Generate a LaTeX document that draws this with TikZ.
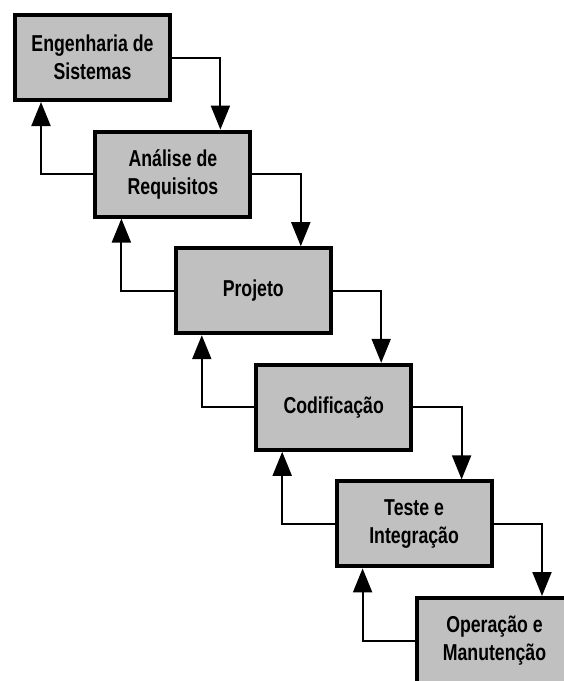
\documentclass[tikz,border=0pt]{standalone}
\usepackage{fontspec}
\setmainfont{Liberation Sans}[FakeStretch=0.77]
\usetikzlibrary{arrows.meta}
\definecolor{boxgray}{HTML}{C0C0C0}
\tikzset{
  stagebox/.style={draw=black, line width=4pt, fill=boxgray, minimum width=155pt, minimum height=85pt,
    inner sep=0pt, align=center, font=\fontsize{23}{28}\selectfont\bfseries},
  conn/.style={line width=2pt, -{Triangle[length=24pt,width=19pt]}}
}
\begin{document}
\begin{tikzpicture}[x=1pt,y=-1pt]
\useasboundingbox (0,0) rectangle (564,681);
\clip (0,0) rectangle (564,681);
\node[stagebox] (b1) at (92.5,57.5) {Engenharia de\\Sistemas};
\node[stagebox] (b2) at (172.9,174.1) {Análise de\\Requisitos};
\node[stagebox] (b3) at (253.3,290.7) {Projeto};
\node[stagebox] (b4) at (333.7,407.3) {Codificação};
\node[stagebox] (b5) at (414.1,523.9) {Teste e\\Integração};
\node[stagebox] (b6) at (494.5,640.5) {Operação e\\Manutenção};
\foreach \a/\b in {b1/b2,b2/b3,b3/b4,b4/b5,b5/b6}{
  \draw[conn] (\a.east) -| ([xshift=127pt]\b.north west);
  \draw[conn] (\b.west) -| ([xshift=28pt]\a.south west);
}
\end{tikzpicture}
\end{document}
